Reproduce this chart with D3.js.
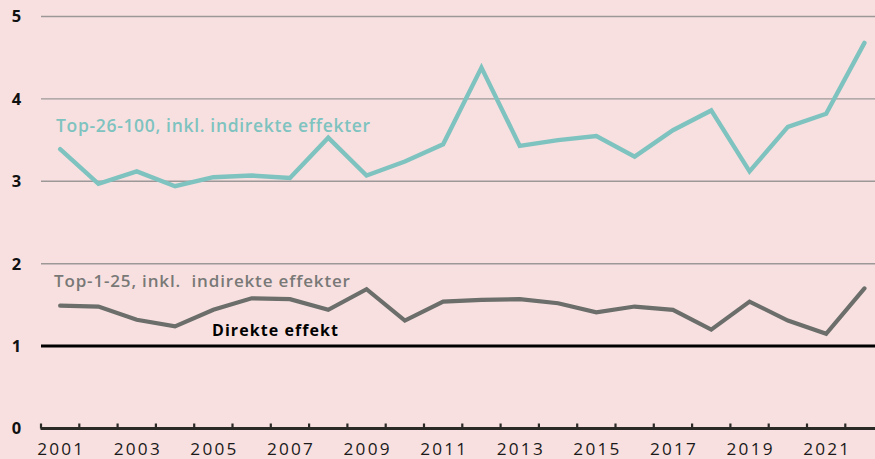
<!DOCTYPE html>
<html>
<head>
<meta charset="utf-8">
<script src="https://cdn.jsdelivr.net/npm/d3@7"></script>
<style>
  html, body { margin: 0; padding: 0; background: #f8e0e0; }
  svg { display: block; }
</style>
</head>
<body>
<script>
// Years shown on the x-axis (one band per year)
const years = d3.range(2001, 2023);
const yearLabels = [2001, 2003, 2005, 2007, 2009, 2011, 2013, 2015, 2017, 2019, 2021];

// Multiplier series
const top26to100 = [3.39, 2.97, 3.12, 2.94, 3.05, 3.07, 3.04, 3.53, 3.07, 3.24, 3.45,
                    4.38, 3.43, 3.50, 3.55, 3.30, 3.62, 3.86, 3.12, 3.66, 3.82, 4.68];
const top1to25 = [1.49, 1.48, 1.32, 1.24, 1.44, 1.58, 1.57, 1.44, 1.69, 1.31, 1.54,
                  1.56, 1.57, 1.52, 1.41, 1.48, 1.44, 1.20, 1.54, 1.31, 1.15, 1.70];
const directEffect = 1;

const yTicks = [0, 1, 2, 3, 4, 5];
const gridValues = [2, 3, 4, 5];

const W = 875, H = 459;
const left = 41, bandW = 38.3;
const font = "'Open Sans', Lato, sans-serif";

const svg = d3.select("body").append("svg")
  .attr("width", W).attr("height", H);

svg.append("rect").attr("width", W).attr("height", H).attr("fill", "#f8e0e0");

const x = d3.scaleBand().domain(years).range([left, left + bandW * years.length]).padding(0);
const y = d3.scaleLinear().domain([0, 5]).range([428.5, 16.5]);

// spread a text's letters so that it spans the given width
function spreadTo(sel, width) {
  sel.each(function () {
    const n = this.textContent.length;
    const natural = this.getComputedTextLength();
    if (n > 1) d3.select(this).attr("letter-spacing", ((width - natural) / (n - 1)).toFixed(2));
  });
}

// horizontal gridlines
svg.append("g").selectAll("line").data(gridValues).join("line")
  .attr("x1", left).attr("x2", W)
  .attr("y1", d => y(d)).attr("y2", d => y(d))
  .attr("stroke", "#9c9898").attr("stroke-width", 1.4);

// y tick labels
svg.append("g").selectAll("text").data(yTicks).join("text")
  .attr("x", 16.5).attr("y", d => y(d))
  .attr("dy", "0.36em")
  .attr("text-anchor", "middle")
  .attr("font-family", font)
  .attr("font-weight", 700).attr("font-size", 16.5)
  .attr("fill", "#111")
  .text(d => d);

// direct effect reference line
svg.append("line")
  .attr("x1", left).attr("x2", W)
  .attr("y1", y(directEffect)).attr("y2", y(directEffect))
  .attr("stroke", "#000").attr("stroke-width", 3);

const line = d3.line()
  .x((d, i) => x(years[i]) + x.bandwidth() / 2)
  .y(d => y(d));

svg.append("path").datum(top1to25)
  .attr("d", line).attr("fill", "none")
  .attr("stroke", "#6b6e6a").attr("stroke-width", 4.2)
  .attr("stroke-linejoin", "miter").attr("stroke-linecap", "round");

svg.append("path").datum(top26to100)
  .attr("d", line).attr("fill", "none")
  .attr("stroke", "#7ec3bf").attr("stroke-width", 4.4)
  .attr("stroke-linejoin", "miter").attr("stroke-linecap", "round");

// x axis: ticks at band boundaries, labels centred in bands
const axisY = y(0);
const tickXs = years.map(d => x(d));
svg.append("g").selectAll("line").data(tickXs).join("line")
  .attr("x1", d => d).attr("x2", d => d)
  .attr("y1", axisY).attr("y2", axisY - 5)
  .attr("stroke", "#2b2a27").attr("stroke-width", 2.2);
svg.append("line")
  .attr("x1", left - 0.5).attr("x2", W)
  .attr("y1", axisY).attr("y2", axisY)
  .attr("stroke", "#2b2a27").attr("stroke-width", 3.2);

const yearText = svg.append("g").selectAll("text").data(yearLabels).join("text")
  .attr("x", d => x(d))
  .attr("y", 454.5)
  .attr("font-family", font)
  .attr("font-size", 17.2)
  .attr("fill", "#1a1a1a")
  .text(d => d);
spreadTo(yearText, 46);
// centre the spread labels in their bands
yearText.attr("x", d => x(d) + x.bandwidth() / 2 - 23);

// series labels
const lbl1 = svg.append("text")
  .attr("x", 56).attr("y", 131.5)
  .attr("font-family", font).attr("font-weight", 600).attr("font-size", 17.5)
  .attr("fill", "#7ec3bf")
  .text("Top-26-100, inkl. indirekte effekter");
spreadTo(lbl1, 314);

const lbl2 = svg.append("text")
  .attr("x", 54).attr("y", 286.5)
  .attr("font-family", font).attr("font-weight", 600).attr("font-size", 17)
  .attr("fill", "#787977")
  .attr("xml:space", "preserve")
  .text("Top-1-25, inkl.  indirekte effekter");
spreadTo(lbl2, 296);

const lbl3 = svg.append("text")
  .attr("x", 212).attr("y", 336)
  .attr("font-family", font).attr("font-weight", 700).attr("font-size", 16)
  .attr("fill", "#000")
  .text("Direkte effekt");
spreadTo(lbl3, 126);
</script>
</body>
</html>
